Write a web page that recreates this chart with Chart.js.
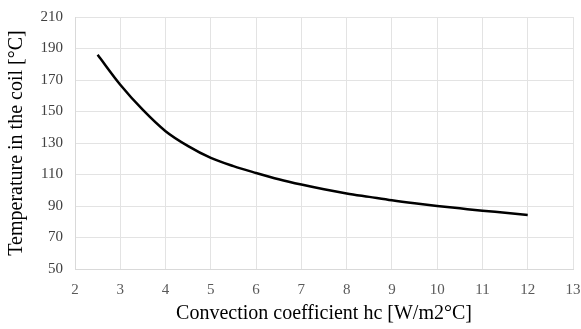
<!DOCTYPE html>
<html>
<head>
<meta charset="utf-8">
<script src="https://cdn.jsdelivr.net/npm/chart.js@4"></script>
<style>
  html, body { margin: 0; padding: 0; background: #fff; }
  #wrap { width: 581px; height: 329px; }
</style>
</head>
<body>
<div id="wrap"><canvas id="coilChart" width="581" height="329"></canvas></div>
<script>
// values
const hcValues = [2.5, 3, 3.5, 4, 4.5, 5, 5.5, 6, 6.5, 7, 7.5, 8, 8.5, 9, 9.5, 10, 10.5, 11, 11.5, 12];
const coilTemps = [186, 167, 151, 137.5, 128, 120.5, 115.3, 111, 107, 103.6, 100.6, 98, 95.8, 93.6, 91.7, 90, 88.5, 87, 85.7, 84.3];
const xTicks = [2, 3, 4, 5, 6, 7, 8, 9, 10, 11, 12, 13];
const yTicks = [50, 70, 90, 110, 130, 150, 170, 190, 210];

const points = hcValues.map((x, i) => ({ x: x, y: coilTemps[i] }));
const serif = "'Liberation Serif', 'DejaVu Serif', serif";

const ctx = document.getElementById('coilChart').getContext('2d');

new Chart(ctx, {
  type: 'scatter',
  data: {
    datasets: [{
      data: points,
      showLine: true,
      borderColor: '#000',
      borderWidth: 2.5,
      pointRadius: 0,
      cubicInterpolationMode: 'monotone',
      fill: false
    }]
  },
  options: {
    responsive: false,
    animation: false,
    layout: { padding: 0 },
    plugins: { legend: { display: false }, tooltip: { enabled: false } },
    scales: {
      x: {
        type: 'linear',
        min: xTicks[0],
        max: xTicks[xTicks.length - 1],
        afterBuildTicks: (axis) => { axis.ticks = xTicks.map(v => ({ value: v })); },
        afterFit: (axis) => { axis.height = 60; axis.paddingRight = 8; axis.paddingLeft = 0; },
        grid: { color: '#e3e3e3', lineWidth: 1, drawTicks: false },
        border: { color: '#d9d9d9' },
        ticks: { color: '#595959', font: { family: serif, size: 15 }, padding: 12, maxRotation: 0 },
        title: {
          display: true,
          text: 'Convection coefficient hc [W/m2°C]',
          color: '#000',
          font: { family: serif, size: 20 },
          padding: { top: 2, bottom: 3 }
        }
      },
      y: {
        min: yTicks[0],
        max: yTicks[yTicks.length - 1],
        afterBuildTicks: (axis) => { axis.ticks = yTicks.map(v => ({ value: v })); },
        afterFit: (axis) => { axis.width = 75; axis.paddingTop = 17; axis.paddingBottom = 0; },
        grid: { color: '#e3e3e3', lineWidth: 1, drawTicks: false },
        border: { color: '#d9d9d9' },
        ticks: { color: '#404040', font: { family: serif, size: 15 }, padding: 12 },
        title: {
          display: true,
          text: 'Temperature in the coil [°C]',
          color: '#000',
          font: { family: serif, size: 20 },
          padding: { top: 5, bottom: 4 }
        }
      }
    }
  }
});
</script>
</body>
</html>
